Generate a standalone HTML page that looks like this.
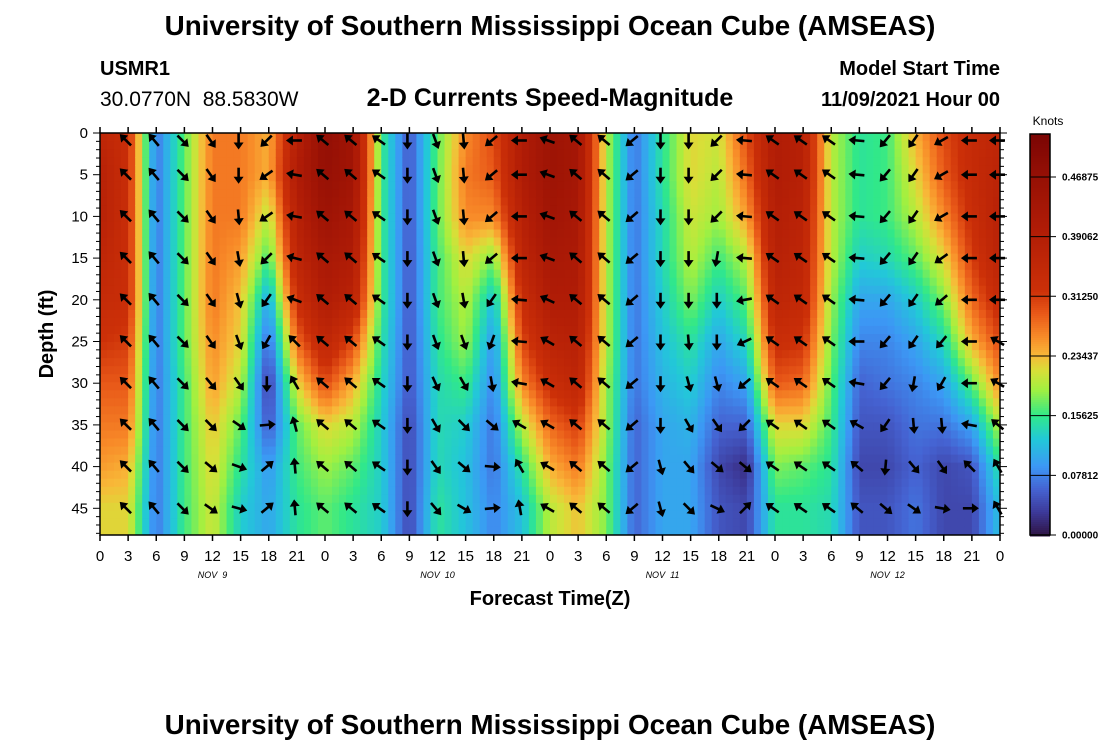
<!DOCTYPE html>
<html><head><meta charset="utf-8">
<style>
body{margin:0;background:#fff;}
svg text{font-family:"Liberation Sans",sans-serif;}
</style></head>
<body>
<svg id="chart" width="1100" height="750" xmlns="http://www.w3.org/2000/svg">
<defs><clipPath id="plotclip"><rect x="100" y="133" width="900" height="402"/></clipPath></defs>
<text x="550" y="35" text-anchor="middle" font-size="27.8" font-weight="bold">University of Southern Mississippi Ocean Cube (AMSEAS)</text>
<text x="100" y="75" font-size="20" font-weight="bold">USMR1</text>
<text x="100" y="106" font-size="21">30.0770N&#160;&#160;88.5830W</text>
<text x="550" y="106" text-anchor="middle" font-size="25" font-weight="bold">2-D Currents Speed-Magnitude</text>
<text x="1000" y="75" text-anchor="end" font-size="20" font-weight="bold">Model Start Time</text>
<text x="1000" y="106" text-anchor="end" font-size="20" font-weight="bold">11/09/2021 Hour 00</text>
<g id="heat" clip-path="url(#plotclip)"></g>
<g id="arrows"></g>
<rect x="100" y="133" width="900" height="402" fill="none" stroke="#000" stroke-width="1.5"/>
<g id="axes"></g>
<text x="550" y="605" text-anchor="middle" font-size="20" font-weight="bold">Forecast Time(Z)</text>
<text transform="translate(53,334) rotate(-90)" text-anchor="middle" font-size="20" font-weight="bold">Depth (ft)</text>
<g id="cbar"></g>
<text x="550" y="734" text-anchor="middle" font-size="27.8" font-weight="bold">University of Southern Mississippi Ocean Cube (AMSEAS)</text>
</svg>
<script>
// ---- data ----
const timeHours = [0,3,6,9,12,15,18,21,24,27,30,33,36,39,42,45,48,51,54,57,60,63,66,69,72,75,78,81,84,87,90,93,96];
const depthsFt = [0,5,10,15,20,25,30,35,40,45];
const speedKnots = [
[0.36,0.38,0.38,0.36,0.34,0.32,0.29,0.27,0.25,0.22],
[0.33,0.33,0.33,0.33,0.33,0.31,0.29,0.27,0.24,0.22],
[0.07,0.07,0.07,0.07,0.07,0.07,0.07,0.07,0.07,0.07],
[0.17,0.17,0.17,0.17,0.17,0.17,0.16,0.16,0.16,0.16],
[0.27,0.27,0.27,0.27,0.27,0.26,0.25,0.23,0.22,0.21],
[0.27,0.27,0.27,0.25,0.23,0.22,0.20,0.17,0.15,0.13],
[0.24,0.24,0.20,0.16,0.10,0.06,0.03,0.05,0.09,0.10],
[0.38,0.40,0.38,0.36,0.33,0.28,0.22,0.17,0.16,0.15],
[0.48,0.47,0.45,0.42,0.40,0.36,0.30,0.22,0.19,0.17],
[0.44,0.44,0.42,0.40,0.37,0.30,0.24,0.20,0.17,0.15],
[0.16,0.16,0.16,0.16,0.16,0.15,0.14,0.13,0.13,0.13],
[0.05,0.05,0.05,0.05,0.05,0.05,0.05,0.04,0.04,0.04],
[0.17,0.17,0.17,0.16,0.16,0.15,0.14,0.14,0.14,0.15],
[0.26,0.27,0.26,0.22,0.20,0.19,0.16,0.13,0.12,0.12],
[0.30,0.29,0.26,0.18,0.12,0.09,0.08,0.07,0.07,0.08],
[0.40,0.40,0.38,0.36,0.33,0.30,0.26,0.20,0.15,0.12],
[0.45,0.45,0.44,0.42,0.40,0.37,0.33,0.28,0.24,0.20],
[0.43,0.43,0.42,0.41,0.40,0.38,0.36,0.31,0.27,0.23],
[0.20,0.20,0.20,0.20,0.20,0.20,0.19,0.19,0.18,0.18],
[0.07,0.07,0.07,0.07,0.07,0.07,0.07,0.06,0.06,0.06],
[0.15,0.15,0.14,0.14,0.13,0.12,0.11,0.10,0.10,0.10],
[0.22,0.22,0.21,0.20,0.18,0.15,0.13,0.11,0.10,0.10],
[0.21,0.20,0.19,0.16,0.13,0.10,0.08,0.06,0.04,0.05],
[0.30,0.28,0.25,0.20,0.17,0.14,0.10,0.06,0.02,0.04],
[0.40,0.40,0.39,0.38,0.36,0.33,0.29,0.22,0.18,0.15],
[0.38,0.38,0.37,0.36,0.35,0.32,0.28,0.22,0.17,0.15],
[0.20,0.20,0.20,0.20,0.19,0.18,0.17,0.16,0.15,0.14],
[0.15,0.15,0.15,0.13,0.10,0.08,0.06,0.05,0.04,0.05],
[0.16,0.16,0.16,0.14,0.10,0.08,0.07,0.05,0.04,0.05],
[0.24,0.22,0.20,0.17,0.13,0.10,0.08,0.07,0.06,0.07],
[0.30,0.29,0.26,0.22,0.18,0.14,0.10,0.07,0.04,0.04],
[0.34,0.34,0.33,0.31,0.28,0.24,0.17,0.10,0.05,0.04],
[0.36,0.37,0.38,0.37,0.34,0.30,0.26,0.20,0.15,0.12]
];
// arrow bearing (deg, 0=N, 90=E) for times 3..96 h, depths 0..45
const arrowHours = [3,6,9,12,15,18,21,24,27,30,33,36,39,42,45,48,51,54,57,60,63,66,69,72,75,78,81,84,87,90,93,96];
const arrowBearing = [
[315,315,315,315,315,315,315,315,315,315],
[320,320,320,320,320,320,320,320,320,320],
[135,135,135,135,135,135,135,135,135,135],
[145,145,145,145,145,145,140,135,130,125],
[180,180,175,170,165,160,145,125,110,105],
[225,235,235,225,215,210,180,85,50,50],
[270,280,280,285,290,315,330,345,355,355],
[310,310,310,310,310,310,310,310,310,310],
[310,310,310,310,310,310,310,310,310,310],
[305,305,305,305,305,305,305,305,305,305],
[180,180,180,180,180,180,180,180,180,180],
[160,160,160,160,160,160,155,150,145,140],
[175,175,175,175,170,160,150,135,130,120],
[230,230,230,230,215,200,170,130,95,85],
[270,270,270,270,275,275,280,300,330,350],
[290,290,290,290,295,300,300,300,300,300],
[310,310,310,310,310,310,310,310,310,310],
[310,310,310,310,310,310,310,310,310,310],
[230,230,230,230,230,230,230,230,230,230],
[180,180,180,180,180,180,180,180,165,165],
[180,180,180,180,180,175,165,150,140,135],
[225,225,225,190,180,180,165,145,130,115],
[275,275,275,275,260,245,230,225,130,45],
[305,305,305,305,305,305,305,305,305,305],
[305,305,305,305,305,305,305,305,305,305],
[305,305,305,305,305,305,305,305,305,305],
[275,275,275,275,275,270,280,300,310,310],
[220,220,220,220,220,220,220,215,185,130],
[215,215,215,215,215,215,190,175,140,125],
[240,240,240,235,230,220,210,175,145,100],
[270,270,270,270,270,270,270,280,315,90],
[270,270,270,270,270,300,300,310,330,330]
];
const cbarTicks = [0.0,0.078125,0.15625,0.234375,0.3125,0.390625,0.46875];
const cbarLabels = ["0.00000","0.07812","0.15625","0.23437","0.31250","0.39062","0.46875"];
const xTickLabels = ["0","3","6","9","12","15","18","21"];
const dayLabels = ["NOV 9","NOV 10","NOV 11","NOV 12"];

// ---- scales ----
const X0=100,X1=1000,Y0=133,Y1=535, T1=96;
const xs = h => X0 + (h/T1)*(X1-X0);
const ys = d => Y0 + d*8.34;
const stops=[[0,'#2f1446'],[0.03,'#3d3a9a'],[0.06,'#4563d2'],[0.09,'#3c98f5'],[0.125,'#22c8d8'],[0.156,'#30e88a'],[0.19,'#a2f040'],[0.215,'#d8df38'],[0.235,'#f8b838'],[0.26,'#f88a28'],[0.29,'#e85818'],[0.32,'#cc3008'],[0.40,'#b01c06'],[0.47,'#961005'],[0.53,'#780403']];
function hex(c){return [1,3,5].map(i=>parseInt(c.substr(i,2),16));}
function cmap(v){
  if(v<=stops[0][0])return stops[0][1];
  for(let i=1;i<stops.length;i++){ if(v<=stops[i][0]){const a=hex(stops[i-1][1]),b=hex(stops[i][1]);const t=(v-stops[i-1][0])/(stops[i][0]-stops[i-1][0]);return 'rgb('+a.map((x,j)=>Math.round(x+(b[j]-x)*t)).join(',')+')';}}
  return stops[stops.length-1][1];
}
const NS='http://www.w3.org/2000/svg';
function mk(tag,attrs,parent){const e=document.createElementNS(NS,tag);for(const k in attrs)e.setAttribute(k,attrs[k]);parent.appendChild(e);return e;}
function sample(h,d){
  let i=0;while(i<timeHours.length-2&&timeHours[i+1]<h)i++;
  let j=0;while(j<depthsFt.length-2&&depthsFt[j+1]<d)j++;
  const tx=Math.min(1,Math.max(0,(h-timeHours[i])/(timeHours[i+1]-timeHours[i])));
  const ty=Math.min(1,Math.max(0,(d-depthsFt[j])/(depthsFt[j+1]-depthsFt[j])));
  const a=speedKnots[i][j],b=speedKnots[i+1][j],c=speedKnots[i][j+1],e=speedKnots[i+1][j+1];
  return (a*(1-tx)+b*tx)*(1-ty)+(c*(1-tx)+e*tx)*ty;
}
// heatmap cells
const heat=document.getElementById('heat');
const NX=128,NY=50,CW=(X1-X0)/NX,CH=(Y1-Y0)/NY;
for(let a=0;a<NX;a++){for(let b=0;b<NY;b++){
  const x=X0+a*CW,y=Y0+b*CH;
  const h=((x+CW/2-X0)/(X1-X0))*T1, d=(y+CH/2-Y0)/8.34;
  const r=mk('rect',{x:x.toFixed(2),y:y.toFixed(2),width:(CW+0.6).toFixed(2),height:(CH+0.6).toFixed(2),fill:cmap(sample(h,d))},heat);
  
  
}}
// arrows
const ag=document.getElementById('arrows');
arrowHours.forEach((h,i)=>{depthsFt.forEach((d,j)=>{
  const cx=xs(h)-2, cy=(d===0?ys(0.9):ys(d));
  const g=mk('g',{transform:`translate(${cx.toFixed(1)},${cy.toFixed(1)}) rotate(${arrowBearing[i][j]})`},ag);
  
  
  mk('line',{x1:0,y1:7,x2:0,y2:-3,stroke:'#000','stroke-width':2.6},g);
  mk('polygon',{points:'0,-9 -5,-2 5,-2',fill:'#000'},g);
});});
// axes
const ax=document.getElementById('axes');
for(let k=0;k<=32;k++){
  const x=xs(k*3);
  mk('line',{x1:x,y1:535,x2:x,y2:541,stroke:'#000','stroke-width':1.5},ax);
  mk('line',{x1:x,y1:127,x2:x,y2:133,stroke:'#000','stroke-width':1.5},ax);
  const t=mk('text',{x:x,y:561,'text-anchor':'middle','font-size':15},ax);
  t.textContent=xTickLabels[k%8];
  
  
}
dayLabels.forEach((s,i)=>{
  const t=mk('text',{x:xs(i*24+12),y:578,'text-anchor':'middle','font-size':9,'font-style':'italic','font-family':'Liberation Mono, monospace'},ax);
  t.textContent=s.replace(' ','\u00a0\u00a0');
  
  
});
for(let d=0;d<=48;d++){
  const y=ys(d), L=(d%5===0)?7:4;
  mk('line',{x1:100-L,y1:y,x2:100,y2:y,stroke:'#000','stroke-width':1},ax);
  mk('line',{x1:1000,y1:y,x2:1000+L,y2:y,stroke:'#000','stroke-width':1},ax);
}
depthsFt.forEach(d=>{
  const t=mk('text',{x:88,y:ys(d)+5,'text-anchor':'end','font-size':15},ax);
  t.textContent=String(d);
  
  
});
// colorbar
const cb=document.getElementById('cbar');
const CB0=535,CBtop=134,VMAX=0.525;
const cy=v=>CB0-(v/VMAX)*(CB0-CBtop);
for(let y=CBtop;y<CB0;y+=2){
  const v=(CB0-y-1)/(CB0-CBtop)*VMAX;
  mk('rect',{x:1030,y:y,width:20,height:2.5,fill:cmap(v)},cb);
}
mk('rect',{x:1030,y:CBtop,width:20,height:CB0-CBtop,fill:'none',stroke:'#000','stroke-width':1.5},cb);
const kt=mk('text',{x:1048,y:125,'text-anchor':'middle','font-size':12},cb);kt.textContent='Knots';


cbarTicks.forEach((v,i)=>{
  const y=cy(v);
  mk('line',{x1:1030,y1:y,x2:1056,y2:y,stroke:'#000','stroke-width':1},cb);
  const t=mk('text',{x:1062,y:y+3.5,'font-size':10,'font-weight':'bold'},cb);
  t.textContent=cbarLabels[i];
  
  
});
</script>
</body></html>
